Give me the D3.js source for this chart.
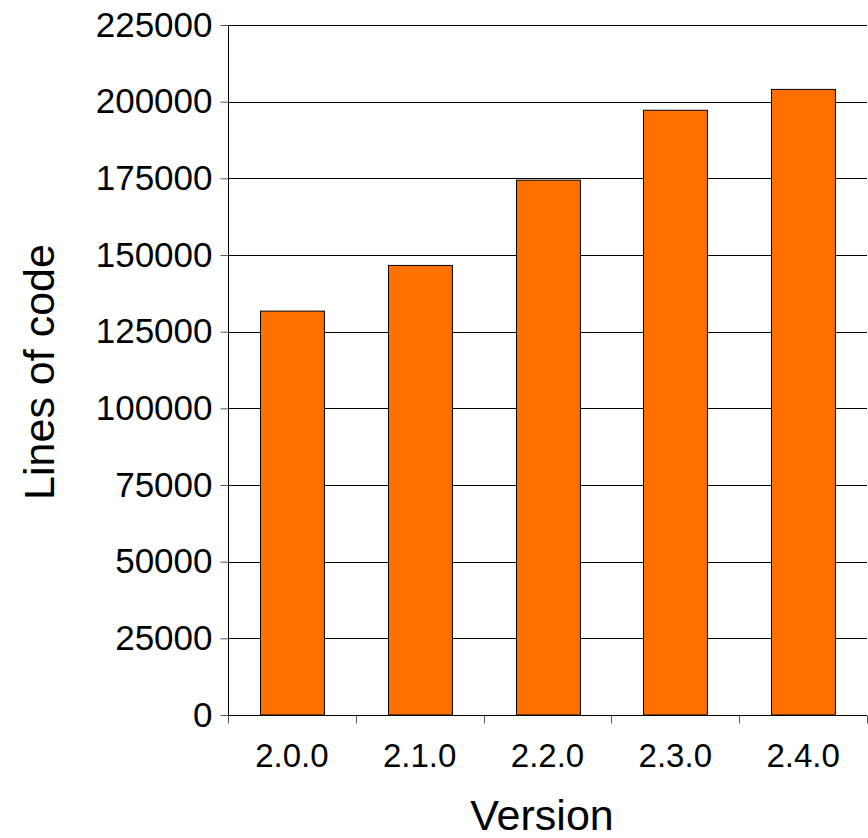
<!DOCTYPE html>
<html>
<head>
<meta charset="utf-8">
<script src="https://cdn.jsdelivr.net/npm/d3@7"></script>
<style>
  body { margin: 0; background: #fff; }
  text { font-family: "Liberation Sans", Arial, sans-serif; fill: #000; }
</style>
</head>
<body>
<svg id="chart" width="868" height="838"></svg>
<script>
const categories = ["2.0.0", "2.1.0", "2.2.0", "2.3.0", "2.4.0"];
const values = [131700, 146600, 174400, 197200, 204000];
const yTicks = [0, 25000, 50000, 75000, 100000, 125000, 150000, 175000, 200000, 225000];
const xTitle = "Version";
const yTitle = "Lines of code";

const svg = d3.select("#chart");
const mLeft = 228, mRight = 867, mTop = 25, mBottom = 715;

const x = d3.scaleBand().domain(categories).range([mLeft, mRight]).paddingInner(0.5).paddingOuter(0.25);
const xOuter = d3.scaleBand().domain(categories).range([mLeft, mRight]);
const y = d3.scaleLinear().domain([0, 225000]).range([mBottom, mTop]);

// gridlines
svg.append("g").selectAll("line").data(yTicks.filter(d => d > 0)).join("line")
  .attr("x1", mLeft).attr("x2", mRight)
  .attr("y1", d => Math.round(y(d)) + 0.5).attr("y2", d => Math.round(y(d)) + 0.5)
  .attr("stroke", "#000").attr("stroke-width", 1);

// bars
svg.append("g").selectAll("rect").data(categories).join("rect")
  .attr("x", d => Math.round(x(d)) + 0.5)
  .attr("y", (d, i) => y(values[i]))
  .attr("width", x.bandwidth())
  .attr("height", (d, i) => mBottom - y(values[i]))
  .attr("fill", "#FF7000").attr("stroke", "#000").attr("stroke-width", 1);

// y axis
const yAxis = d3.axisLeft(y).tickValues(yTicks).tickSize(8).tickPadding(8).tickFormat(d3.format("d"));
const gy = svg.append("g").attr("transform", `translate(${mLeft + 0.5},0)`).call(yAxis);
gy.attr("font-size", null).attr("font-family", null);
gy.select(".domain").attr("stroke", "#000").attr("d", `M0,${mTop}V${mBottom}`);
gy.selectAll(".tick line").attr("stroke", "#555");
gy.selectAll(".tick text").attr("font-size", 35).attr("fill", "#000");

// x axis
const gx = svg.append("g").attr("transform", `translate(0,${mBottom + 0.5})`);
gx.append("line").attr("x1", mLeft).attr("x2", mRight).attr("stroke", "#000");
const bounds = categories.map(c => xOuter(c)).concat([mRight]);
gx.selectAll("line.tk").data(bounds).join("line").attr("class", "tk")
  .attr("x1", d => Math.round(d) + 0.5).attr("x2", d => Math.round(d) + 0.5)
  .attr("y1", 0).attr("y2", 8).attr("stroke", "#555");
gx.selectAll("text").data(categories).join("text")
  .attr("x", d => xOuter(d) + xOuter.bandwidth() / 2)
  .attr("y", 51)
  .attr("text-anchor", "middle")
  .attr("font-size", 33)
  .text(d => d);

// titles
svg.append("text").attr("x", 542).attr("y", 830)
  .attr("text-anchor", "middle").attr("font-size", 43).text(xTitle);
svg.append("text").attr("transform", `translate(54,372) rotate(-90)`)
  .attr("text-anchor", "middle").attr("font-size", 43).text(yTitle);
</script>
</body>
</html>
